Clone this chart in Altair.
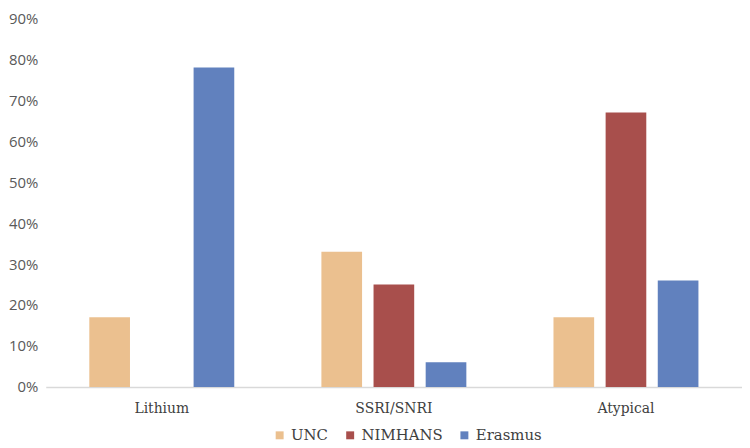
import altair as alt
import pandas as pd

categories = ["Lithium", "SSRI/SNRI", "Atypical"]
series = ["UNC", "NIMHANS", "Erasmus"]
unc = [17, 33, 17]
nimhans = [0, 25, 67]
erasmus = [78, 6, 26]
colors = ["#EBC08F", "#A84F4C", "#6181BE"]

rows = []
for i, c in enumerate(categories):
    for s, vals in zip(series, [unc, nimhans, erasmus]):
        rows.append({"cat": c, "series": s, "val": vals[i] / 100})
df = pd.DataFrame(rows)

chart = alt.Chart(df).mark_bar().encode(
    x=alt.X("cat:N", sort=categories, title=None,
            scale=alt.Scale(paddingInner=0.326, paddingOuter=0.163),
            axis=alt.Axis(labelAngle=0, ticks=False, domainColor="#D9D9D9",
                          domainWidth=1.5, labelFont="DejaVu Serif", labelFontSize=14,
                          labelColor="#404040", labelPadding=15, grid=False)),
    xOffset=alt.XOffset("series:N", sort=series,
                        scale=alt.Scale(paddingInner=0.22, paddingOuter=0.11)),
    y=alt.Y("val:Q", title=None,
            scale=alt.Scale(domain=[0, 0.9]),
            axis=alt.Axis(format=".0%", values=[i / 10 for i in range(10)],
                          grid=False, domain=False, ticks=False,
                          labelFont="Open Sans", labelFontSize=15,
                          labelColor="#595959", labelPadding=8)),
    color=alt.Color("series:N", sort=series,
                    scale=alt.Scale(domain=series, range=colors),
                    legend=alt.Legend(title=None, orient="none", direction="horizontal",
                                      legendX=228, legendY=412,
                                      symbolType="square", symbolSize=64,
                                      symbolStrokeWidth=0,
                                      labelFont="DejaVu Serif", labelFontSize=15,
                                      labelColor="#404040", columnPadding=14,
                                      labelOffset=4)),
).properties(
    width=701, height=371,
    padding={"left": 0, "top": 2, "right": 0, "bottom": 0},
).configure_view(stroke=None)

chart.save("out.html", embed_options={"renderer": "svg", "actions": False})
